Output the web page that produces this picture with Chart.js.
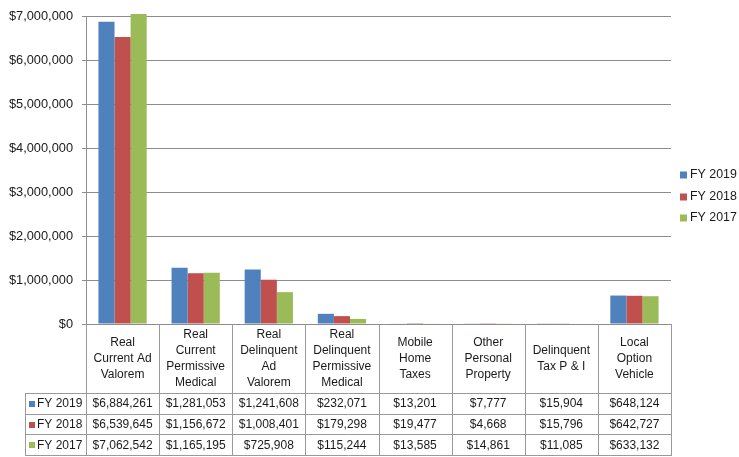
<!DOCTYPE html>
<html>
<head>
<meta charset="utf-8">
<script src="https://cdn.jsdelivr.net/npm/chart.js@4.4.1/dist/chart.umd.min.js"></script>
<style>
  html, body { margin: 0; padding: 0; background: #fff; }
  #wrap { width: 739px; height: 457px; }
</style>
</head>
<body>
<div id="wrap"><canvas id="c" width="739" height="457"></canvas></div>
<script>
// Revenue categories (multi-line header labels for the data table)
const categories = [
  ["Real", "Current Ad", "Valorem"],
  ["Real", "Current", "Permissive", "Medical"],
  ["Real", "Delinquent", "Ad", "Valorem"],
  ["Real", "Delinquent", "Permissive", "Medical"],
  ["Mobile", "Home", "Taxes"],
  ["Other", "Personal", "Property"],
  ["Delinquent", "Tax P & I"],
  ["Local", "Option", "Vehicle"]
];

const seriesNames = ["FY 2019", "FY 2018", "FY 2017"];
const fy2019 = [6884261, 1281053, 1241608, 232071, 13201, 7777, 15904, 648124];
const fy2018 = [6539645, 1156672, 1008401, 179298, 19477, 4668, 15796, 642727];
const fy2017 = [7062542, 1165195, 725908, 115244, 13585, 14861, 11085, 633132];
const seriesColors = ["#4F81BD", "#C0504D", "#9BBB59"];

const yMax = 7000000;
const yStep = 1000000;

const FONT = "Liberation Sans, Arial, sans-serif";
const TEXT = "#1a1a1a";
const GRID = "#8c8c8c";
const TABLE_LINE = "#9a9a9a";

const money = v => "$" + Math.round(v).toLocaleString("en-US");

// Data table drawn beneath the plot, aligned to the category scale, plus legend
const dataTablePlugin = {
  id: "dataTable",
  afterDraw(chart) {
    const ctx = chart.ctx;
    const xs = chart.scales.x;
    const area = chart.chartArea;
    const n = categories.length;
    const colW = (area.right - area.left) / n;
    const top = area.bottom;
    const headerBottom = top + 69;
    const rowH = 20.7;
    const tableBottom = headerBottom + rowH * 3;
    const labelLeft = 25;
    const series = chart.data.datasets;

    ctx.save();
    ctx.strokeStyle = TABLE_LINE;
    ctx.lineWidth = 1;
    const hline = (x1, x2, y) => {
      ctx.beginPath(); ctx.moveTo(x1, Math.round(y) + 0.5); ctx.lineTo(x2, Math.round(y) + 0.5); ctx.stroke();
    };
    const vline = (x, y1, y2) => {
      ctx.beginPath(); ctx.moveTo(Math.round(x) + 0.5, y1); ctx.lineTo(Math.round(x) + 0.5, y2); ctx.stroke();
    };

    // column separators
    for (let i = 0; i <= n; i++) {
      const bx = xs.getPixelForValue(0) - colW / 2 + i * colW;
      vline(bx, top, tableBottom);
    }
    vline(labelLeft, headerBottom, tableBottom);
    for (let r = 0; r <= 3; r++) {
      hline(labelLeft, area.right + 1, headerBottom + r * rowH);
    }

    ctx.fillStyle = TEXT;
    ctx.font = "12px " + FONT;
    ctx.textAlign = "center";
    ctx.textBaseline = "middle";

    // header labels
    const lineH = 16;
    const headerMid = (top + headerBottom) / 2;
    categories.forEach((lines, i) => {
      const cx = xs.getPixelForValue(i);
      const y0 = headerMid - (lines.length - 1) * lineH / 2;
      lines.forEach((t, k) => ctx.fillText(t, cx, y0 + k * lineH));
    });

    // value rows
    series.forEach((ds, r) => {
      const cy = headerBottom + rowH * r + rowH / 2 + 0.5;
      ds.data.forEach((v, i) => {
        ctx.textAlign = "center";
        ctx.fillStyle = TEXT;
        ctx.fillText(money(v), xs.getPixelForValue(i), cy);
      });
      ctx.fillStyle = ds.backgroundColor;
      ctx.fillRect(29, Math.round(cy) - 3, 6, 6);
      ctx.fillStyle = TEXT;
      ctx.textAlign = "left";
      ctx.fillText(ds.label, 37, cy);
    });

    // legend
    ctx.font = "12.4px " + FONT;
    series.forEach((ds, r) => {
      const cy = 175 + r * 21.5;
      ctx.fillStyle = ds.backgroundColor;
      ctx.fillRect(680, Math.round(cy) - 3.5, 7, 7);
      ctx.fillStyle = TEXT;
      ctx.textAlign = "left";
      ctx.fillText(ds.label, 690, cy);
    });
    ctx.restore();
  }
};

const seriesData = [fy2019, fy2018, fy2017];

new Chart(document.getElementById("c"), {
  type: "bar",
  data: {
    labels: categories,
    datasets: seriesNames.map((name, i) => ({
      label: name,
      data: seriesData[i],
      backgroundColor: seriesColors[i],
      borderWidth: 0,
      categoryPercentage: 0.66,
      barPercentage: 1.0,
      clip: false
    }))
  },
  options: {
    responsive: false,
    animation: false,
    devicePixelRatio: 1,
    layout: { padding: { left: 0, top: 12, right: 68, bottom: 133 } },
    plugins: {
      legend: { display: false },
      tooltip: { enabled: false }
    },
    scales: {
      x: {
        display: false,
        grid: { display: false }
      },
      y: {
        min: 0,
        max: yMax,
        afterFit(scale) { scale.width = 86; },
        ticks: {
          stepSize: yStep,
          padding: 9,
          color: TEXT,
          font: { family: FONT, size: 12.8 },
          callback: v => money(v)
        },
        grid: {
          color: GRID,
          lineWidth: 1,
          tickLength: 4,
          drawTicks: true
        },
        border: { display: true, color: GRID }
      }
    }
  },
  plugins: [dataTablePlugin]
});
</script>
</body>
</html>
